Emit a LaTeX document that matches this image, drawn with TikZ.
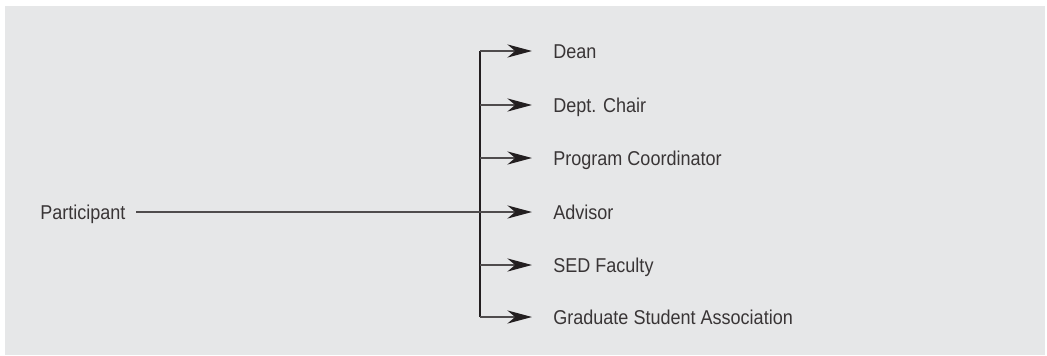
\documentclass[tikz,border=0pt]{standalone}
\usepackage{fontspec}
\setmainfont[FakeStretch=0.9]{Liberation Sans}
\usetikzlibrary{arrows.meta}

\definecolor{panel}{HTML}{E6E7E8}
\definecolor{ink}{HTML}{231F20}

\tikzset{
  label/.style={anchor=west, inner sep=0pt, text=ink!90,
    font=\fontsize{11.4pt}{13pt}\selectfont, text height=8.2pt, text depth=0pt},
  link/.style={draw=ink!80, line width=0.6pt,
    -{Stealth[length=14pt, width=7.5pt, inset=4.5pt, color=ink, fill=ink]}, shorten >=12pt}
}

\begin{document}
\begin{tikzpicture}[x=0.02cm, y=-0.02cm]
  \useasboundingbox (0,0) rectangle (1047,355);
  \fill[panel] (5,6) rectangle (1045,355);

  \node[label] (participant) at (40,212) {Participant};
  \coordinate (trunk) at (480,212);

  \node[label] (dean)    at (553,51)  {Dean};
  \node[label] (chair)   at (553,105) {Dept. Chair};
  \node[label] (coord)   at (553,158) {Program Coordinator};
  \node[label] (advisor) at (553,212) {Advisor};
  \node[label] (faculty) at (553,265) {SED Faculty};
  \node[label] (gsa)     at (553,317) {Graduate Student Association};

  \draw[draw=ink, line width=0.6pt] (trunk |- dean) -- (trunk |- gsa);
  \draw[link, shorten <=6pt] (participant) -- (advisor);
  \draw[link] (trunk |- dean) -- (dean);
  \draw[link] (trunk |- chair) -- (chair);
  \draw[link] (trunk |- coord) -- (coord);
  \draw[link] (trunk |- faculty) -- (faculty);
  \draw[link] (trunk |- gsa) -- (gsa);
\end{tikzpicture}
\end{document}
